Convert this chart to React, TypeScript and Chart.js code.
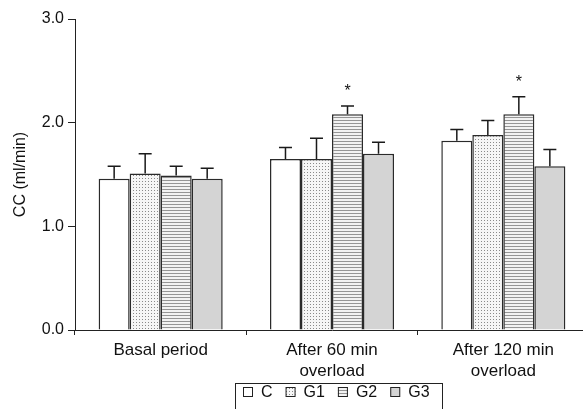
import React, { useEffect, useRef } from "react";
import { Chart, registerables } from "chart.js";

Chart.register(...registerables);

const categories: string[][] = [["Basal period"], ["After 60 min", "overload"], ["After 120 min", "overload"]];
const seriesNames = ["C", "G1", "G2", "G3"];
const cValues = [1.46, 1.65, 1.825];
const g1Values = [1.51, 1.65, 1.88];
const g2Values = [1.49, 2.08, 2.08];
const g3Values = [1.46, 1.70, 1.58];
const cErr = [0.12, 0.11, 0.11];
const g1Err = [0.19, 0.20, 0.14];
const g2Err = [0.09, 0.08, 0.17];
const g3Err = [0.10, 0.11, 0.16];
const g2Marks = ["", "*", "*"];
const yTicks = [0, 1, 2, 3];

const FONT = "'Liberation Sans', Arial, Helvetica, sans-serif";

function makeDotPattern(ctx: CanvasRenderingContext2D) {
  const c = document.createElement("canvas");
  c.width = 3;
  c.height = 3;
  const g = c.getContext("2d")!;
  g.fillStyle = "#f6f6f6";
  g.fillRect(0, 0, 3, 3);
  g.fillStyle = "#8a8a8a";
  g.fillRect(1, 1, 1, 1);
  return ctx.createPattern(c, "repeat")!;
}

function makeStripePattern(ctx: CanvasRenderingContext2D) {
  const c = document.createElement("canvas");
  c.width = 4;
  c.height = 3;
  const g = c.getContext("2d")!;
  g.fillStyle = "#f2f2f2";
  g.fillRect(0, 0, 4, 3);
  g.fillStyle = "#959595";
  g.fillRect(0, 0, 4, 1);
  return ctx.createPattern(c, "repeat")!;
}

export default function App() {
  const ref = useRef<HTMLCanvasElement | null>(null);

  useEffect(() => {
    const canvas = ref.current!;
    const ctx = canvas.getContext("2d")!;
    const fills = ["#ffffff", makeDotPattern(ctx), makeStripePattern(ctx), "#d4d4d4"];
    const values = [cValues, g1Values, g2Values, g3Values];
    const errs = [cErr, g1Err, g2Err, g3Err];

    const errorPlugin = {
      id: "errbars",
      afterDatasetsDraw(chart: any) {
        const c = chart.ctx;
        const y = chart.scales.y;
        c.save();
        c.strokeStyle = "#1a1a1a";
        c.lineWidth = 1.5;
        chart.data.datasets.forEach((ds: any, di: number) => {
          const meta = chart.getDatasetMeta(di);
          meta.data.forEach((bar: any, i: number) => {
            const v = ds.data[i];
            const e = errs[di][i];
            const yTop = y.getPixelForValue(v + e);
            const yBar = y.getPixelForValue(v);
            const x = bar.x;
            c.beginPath();
            c.moveTo(x, yBar);
            c.lineTo(x, yTop);
            c.moveTo(x - 6.5, yTop);
            c.lineTo(x + 6.5, yTop);
            c.stroke();
            if (di === 2 && g2Marks[i]) {
              c.fillStyle = "#111";
              c.font = `16px ${FONT}`;
              c.textAlign = "center";
              c.textBaseline = "middle";
              c.fillText(g2Marks[i], x, yTop - 14);
            }
          });
        });
        c.restore();
      },
    };

    const legendPlugin = {
      id: "boxlegend",
      afterDraw(chart: any) {
        const c = chart.ctx;
        c.save();
        c.font = `16px ${FONT}`;
        const iconW = 10, gapIT = 8, gapItems = 13;
        const boxL = 235.5, boxR = 442.5, boxT = 383.5;
        c.strokeStyle = "#222";
        c.lineWidth = 1;
        c.strokeRect(boxL, boxT, boxR - boxL, 40);
        let x = 243;
        const iconTop = 387;
        const baseline = 397;
        seriesNames.forEach((n, i) => {
          c.fillStyle = fills[i] as any;
          c.fillRect(x, iconTop, iconW, iconW);
          c.strokeStyle = "#222";
          c.lineWidth = 1;
          c.strokeRect(x + 0.5, iconTop + 0.5, iconW - 1, iconW - 1);
          x += iconW + gapIT;
          c.fillStyle = "#111";
          c.textAlign = "left";
          c.textBaseline = "alphabetic";
          c.fillText(n, x, baseline);
          x += c.measureText(n).width + gapItems;
        });
        c.restore();
      },
    };

    const chart = new Chart(canvas, {
      type: "bar",
      data: {
        labels: categories,
        datasets: seriesNames.map((n, i) => ({
          label: n,
          data: values[i],
          backgroundColor: fills[i] as any,
          borderColor: "#2a2a2a",
          borderWidth: 1.5,
          categoryPercentage: 0.724,
          barPercentage: 1,
        })),
      },
      options: {
        responsive: false,
        animation: false,
        devicePixelRatio: 1,
        layout: { padding: { top: 19, right: 11, left: 0, bottom: 0 } },
        plugins: { legend: { display: false }, tooltip: { enabled: false } },
        scales: {
          x: {
            offset: true,
            grid: { display: true, drawOnChartArea: false, tickLength: 5, color: "#222", lineWidth: 1 },
            border: { display: true, color: "#222", width: 1 },
            ticks: {
              color: "#111",
              font: { family: FONT, size: 17, lineHeight: 1.28 },
              padding: 4,
              maxRotation: 0,
              autoSkip: false,
            },
            afterFit: (s: any) => {
              s.height = 409 - 330;
            },
          },
          y: {
            min: 0,
            max: 3,
            afterBuildTicks: (s: any) => {
              s.ticks = yTicks.map((v) => ({ value: v }));
            },
            grid: { display: true, drawOnChartArea: false, tickLength: 7, color: "#222", lineWidth: 1 },
            border: { display: true, color: "#222", width: 1 },
            ticks: {
              color: "#111",
              font: { family: FONT, size: 16 },
              padding: 4,
              callback: (v: any) => Number(v).toFixed(1),
            },
            title: {
              display: true,
              text: "CC (ml/min)",
              color: "#111",
              font: { family: FONT, size: 16 },
              padding: { top: 11, bottom: 0 },
            },
            afterFit: (s: any) => {
              s.width = 75;
            },
          },
        },
      },
      plugins: [errorPlugin, legendPlugin],
    });
    return () => chart.destroy();
  }, []);

  return (
    <div style={{ position: "fixed", left: 0, top: 0, width: 583, height: 409, overflow: "hidden", background: "#fff" }}>
      <canvas ref={ref} width={600} height={409} style={{ width: 600, height: 409, display: "block" }} />
    </div>
  );
}
